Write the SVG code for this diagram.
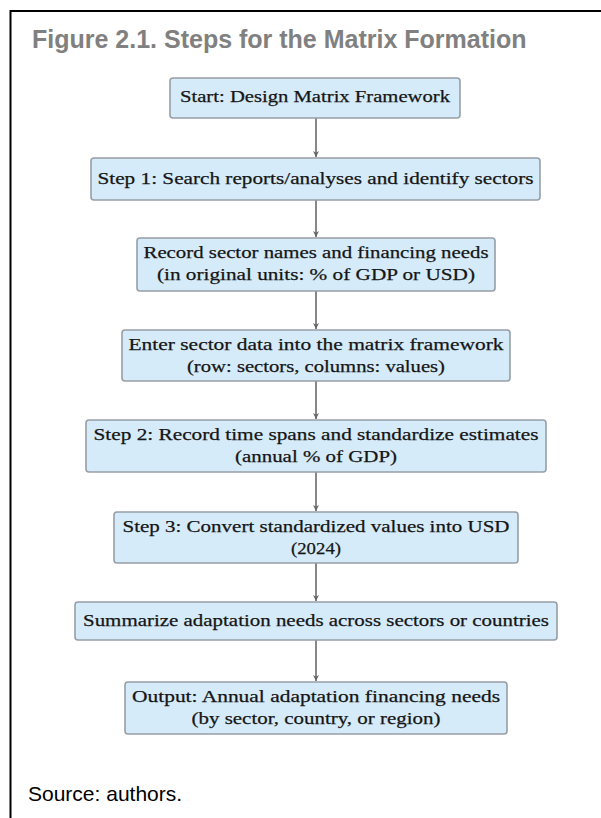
<svg xmlns="http://www.w3.org/2000/svg" width="601" height="818" viewBox="0 0 601 818">
<defs>
<marker id="ah" viewBox="0 0 10 10" refX="10" refY="5" markerWidth="6" markerHeight="6" markerUnits="userSpaceOnUse" orient="auto">
<path d="M0,0 L10,5 L0,10 L3,5 Z" fill="#666"/>
</marker>
<style>
.box{fill:#d5ebf9;stroke:#979fa6;stroke-width:1.6}
.t{font-family:"Liberation Serif","Times New Roman",serif;font-size:17.5px;fill:#151515;stroke:#151515;stroke-width:0.25;text-anchor:middle}
.c{stroke:#6a6a6a;stroke-width:1.6;fill:none;marker-end:url(#ah)}
.title{font-family:"Liberation Sans",Arial,sans-serif;font-weight:bold;font-size:25px;fill:#808080}
.src{font-family:"Liberation Sans",Arial,sans-serif;font-size:21px;fill:#000}
</style>
</defs>
<rect x="0" y="0" width="601" height="818" fill="#fff"/>
<path d="M10.5,818 L10.5,11 L601,11" stroke="#000" stroke-width="2" fill="none"/>
<text class="title" x="32" y="48">Figure 2.1. Steps for the Matrix Formation</text>

<g id="connectors">
<line class="c" x1="316" y1="118" x2="316" y2="157"/>
<line class="c" x1="316" y1="200" x2="316" y2="237"/>
<line class="c" x1="316" y1="291" x2="316" y2="329"/>
<line class="c" x1="316" y1="381" x2="316" y2="419"/>
<line class="c" x1="316" y1="472" x2="316" y2="511"/>
<line class="c" x1="316" y1="563" x2="316" y2="601"/>
<line class="c" x1="316" y1="640" x2="316" y2="681"/>
</g>

<g id="n1">
<rect class="box" x="170" y="78" width="290" height="40" rx="3"/>
<text class="t" x="315" y="102" textLength="270" lengthAdjust="spacingAndGlyphs">Start: Design Matrix Framework</text>
</g>
<g id="n2">
<rect class="box" x="91" y="158" width="449" height="42" rx="3"/>
<text class="t" x="315.5" y="183.5" textLength="436" lengthAdjust="spacingAndGlyphs">Step 1: Search reports/analyses and identify sectors</text>
</g>
<g id="n3">
<rect class="box" x="137" y="238" width="358" height="53" rx="3"/>
<text class="t" x="316" y="257.5" textLength="345" lengthAdjust="spacingAndGlyphs">Record sector names and financing needs</text>
<text class="t" x="316" y="279.5" textLength="318" lengthAdjust="spacingAndGlyphs">(in original units: % of GDP or USD)</text>
</g>
<g id="n4">
<rect class="box" x="122" y="330" width="388" height="51" rx="3"/>
<text class="t" x="316" y="349.5" textLength="375" lengthAdjust="spacingAndGlyphs">Enter sector data into the matrix framework</text>
<text class="t" x="316" y="371.5" textLength="258" lengthAdjust="spacingAndGlyphs">(row: sectors, columns: values)</text>
</g>
<g id="n5">
<rect class="box" x="86" y="420" width="460" height="52" rx="3"/>
<text class="t" x="316" y="439.5" textLength="445" lengthAdjust="spacingAndGlyphs">Step 2: Record time spans and standardize estimates</text>
<text class="t" x="316" y="461.5" textLength="162" lengthAdjust="spacingAndGlyphs">(annual % of GDP)</text>
</g>
<g id="n6">
<rect class="box" x="114" y="512" width="404" height="51" rx="3"/>
<text class="t" x="316" y="531.5" textLength="387" lengthAdjust="spacingAndGlyphs">Step 3: Convert standardized values into USD</text>
<text class="t" x="316" y="553.5" textLength="50" lengthAdjust="spacingAndGlyphs">(2024)</text>
</g>
<g id="n7">
<rect class="box" x="75" y="602" width="482" height="38" rx="3"/>
<text class="t" x="316" y="626" textLength="466" lengthAdjust="spacingAndGlyphs">Summarize adaptation needs across sectors or countries</text>
</g>
<g id="n8">
<rect class="box" x="125" y="682" width="382" height="52" rx="3"/>
<text class="t" x="316" y="701.5" textLength="368" lengthAdjust="spacingAndGlyphs">Output: Annual adaptation financing needs</text>
<text class="t" x="316" y="723.5" textLength="249" lengthAdjust="spacingAndGlyphs">(by sector, country, or region)</text>
</g>

<text class="src" x="28" y="801">Source: authors.</text>
</svg>
